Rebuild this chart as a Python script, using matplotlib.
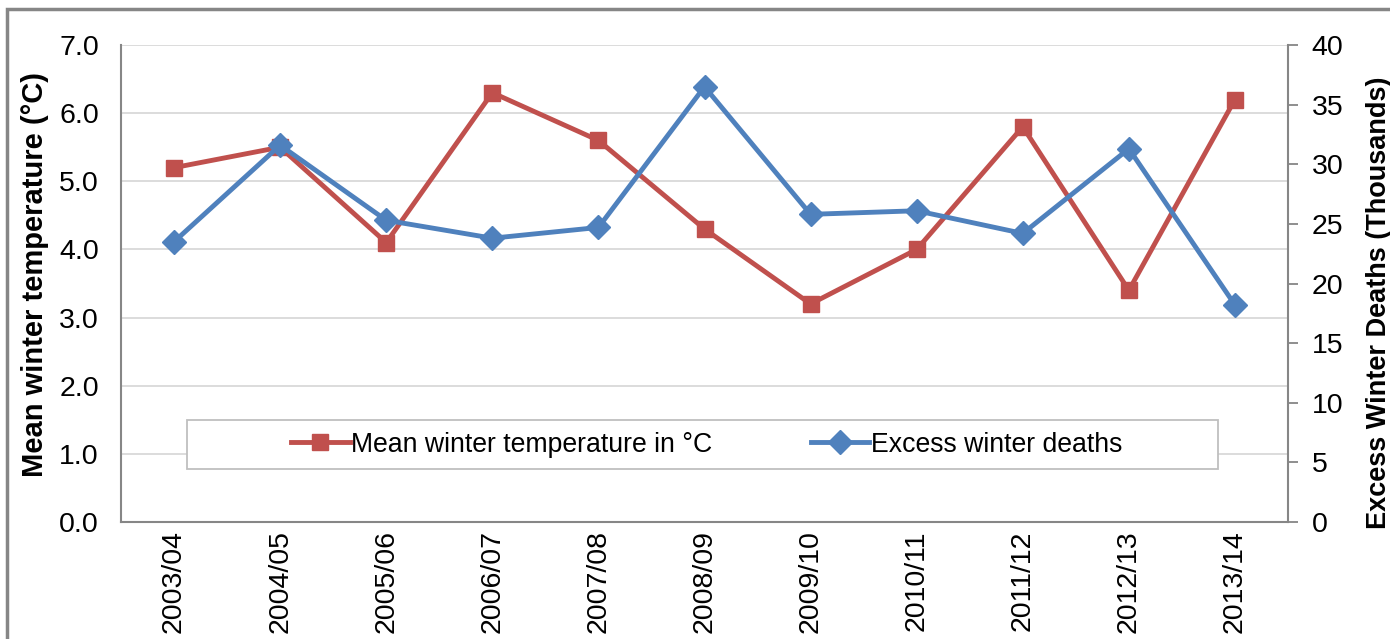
import matplotlib.pyplot as plt
from matplotlib.patches import Rectangle

# Winter seasons, mean temperature (°C) and excess winter deaths (thousands)
seasons = ["2003/04", "2004/05", "2005/06", "2006/07", "2007/08", "2008/09",
           "2009/10", "2010/11", "2011/12", "2012/13", "2013/14"]
temp = [5.2, 5.5, 4.1, 6.3, 5.6, 4.3, 3.2, 4.0, 5.8, 3.4, 6.2]
deaths = [23.5, 31.6, 25.3, 23.8, 24.7, 36.5, 25.8, 26.1, 24.2, 31.3, 18.2]

red = "#C0504D"
blue = "#4F81BD"
grey = "#868686"

plt.rcParams["font.family"] = ["Liberation Sans", "DejaVu Sans"]

W, H = 1390, 639
fig = plt.figure(figsize=(W / 100, H / 100), dpi=100)
ax = fig.add_axes([121 / W, 1 - 522 / H, 1167 / W, 477 / H])

# outer frame of the figure
fig.patches.append(Rectangle((7 / W, -0.1), 1.1, 1 - 9 / H + 0.1,
                             transform=fig.transFigure, fill=False,
                             edgecolor=grey, linewidth=2.5))

x = range(len(seasons))
l1, = ax.plot(x, temp, color=red, linewidth=3.5, marker="s", markersize=12,
              label="Mean winter temperature in °C", zorder=3)
ax.set_ylim(0, 7)
ax.set_yticks([i for i in range(8)])
ax.set_yticklabels([f"{i:.1f}" for i in range(8)])
ax.set_xlim(-0.5, 10.5)
ax.set_xticks(list(x))
ax.set_xticklabels(seasons, rotation=90)
ax.grid(axis="y", color="#D9D9D9", linewidth=1.3)
ax.set_axisbelow(True)
ax.tick_params(axis="both", length=0, labelsize=20.5)
ax.tick_params(axis="x", pad=6)
ax.tick_params(axis="y", pad=16)
for s in ["top", "right"]:
    ax.spines[s].set_visible(False)
for s in ["left", "bottom"]:
    ax.spines[s].set_color(grey)
    ax.spines[s].set_linewidth(1.5)
ax.set_ylabel("Mean winter temperature (°C)", fontsize=21, fontweight="bold")
ax.yaxis.set_label_coords(-0.062, 0.518)

ax2 = ax.twinx()
l2, = ax2.plot(x, deaths, color=blue, linewidth=3.5, marker="D", markersize=12,
               label="Excess winter deaths", zorder=3)
ax2.set_ylim(0, 40)
ax2.set_yticks(range(0, 41, 5))
ax2.tick_params(axis="y", length=7, width=1.3, color=grey, labelsize=20.5,
                pad=10)
for s in ["top", "left", "bottom"]:
    ax2.spines[s].set_visible(False)
ax2.spines["right"].set_color(grey)
ax2.spines["right"].set_linewidth(1.5)
ax2.set_ylabel("Excess Winter Deaths (Thousands)", fontsize=19.5,
               fontweight="bold")
ax2.yaxis.set_label_coords(1.067, 0.459)

# legend box drawn separately so its size can be set
box = Rectangle((187 / W, 1 - 469 / H), 1031 / W, 49 / H,
                transform=fig.transFigure, facecolor="white",
                edgecolor="#BFBFBF", linewidth=1.3, zorder=4)
ax2.add_artist(box)
box.set_transform(fig.transFigure)
leg = ax2.legend(handles=[l1, l2], loc="center", ncol=2, fontsize=19.2,
                 bbox_to_anchor=(706.5 / W, 1 - 444.5 / H),
                 bbox_transform=fig.transFigure, frameon=False,
                 handlelength=2.2, handletextpad=0.05, columnspacing=3.7)
leg.set_zorder(5)

fig.savefig("out.png", dpi=100)
